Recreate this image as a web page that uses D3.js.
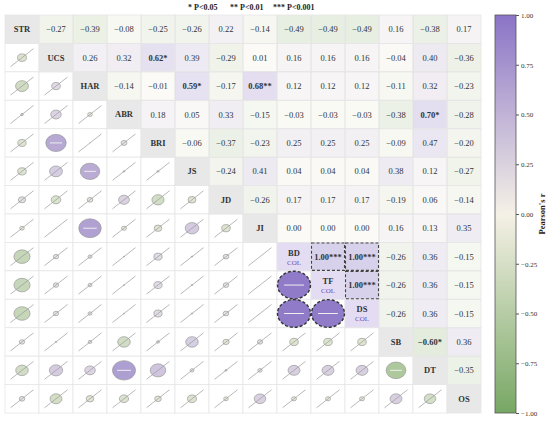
<!DOCTYPE html>
<html>
<head>
<meta charset="utf-8">
<script src="https://cdn.jsdelivr.net/npm/d3@7"></script>
<style>
  body { margin: 0; background: #fff; }
  svg { display: block; font-family: 'Liberation Serif', 'Times New Roman', serif; }
</style>
</head>
<body>
<svg width="550" height="423"></svg>
<script>
const vars = ['STR', 'UCS', 'HAR', 'ABR', 'BRI', 'JS', 'JD', 'JI', 'BD', 'TF', 'DS', 'SB', 'DT', 'OS']

// upper triangle, row by row (row i holds columns i+1 .. 13)
const upperRows = [
  [-0.27, -0.39, -0.08, -0.25, -0.26, 0.22, -0.14, -0.49, -0.49, -0.49, 0.16, -0.38, 0.17],
  [0.26, 0.32, 0.62, 0.39, -0.29, 0.01, 0.16, 0.16, 0.16, -0.04, 0.40, -0.36],
  [-0.14, -0.01, 0.59, -0.17, 0.68, 0.12, 0.12, 0.12, -0.11, 0.32, -0.23],
  [0.18, 0.05, 0.33, -0.15, -0.03, -0.03, -0.03, -0.38, 0.70, -0.28],
  [-0.06, -0.37, -0.23, 0.25, 0.25, 0.25, -0.09, 0.47, -0.20],
  [-0.24, 0.41, 0.04, 0.04, 0.04, 0.38, 0.12, -0.27],
  [-0.26, 0.17, 0.17, 0.17, -0.19, 0.06, -0.14],
  [0.00, 0.00, 0.00, 0.16, 0.13, 0.35],
  [1.00, 1.00, -0.26, 0.36, -0.15],
  [1.00, -0.26, 0.36, -0.15],
  [-0.26, 0.36, -0.15],
  [-0.60, 0.36],
  [-0.35]
]

const sigPairs = [
  ['UCS', 'BRI', '*'], ['HAR', 'JS', '*'], ['HAR', 'JI', '**'], ['ABR', 'DT', '*'],
  ['BD', 'TF', '***'], ['BD', 'DS', '***'], ['TF', 'DS', '***'], ['SB', 'DT', '*']
]

const groupVars = ['BD', 'TF', 'DS']
const groupLabel = 'COL'
const legendLabels = ['* P<0.05', '** P<0.01', '*** P<0.001']
const barTicks = [1, 0.75, 0.5, 0.25, 0, -0.25, -0.5, -0.75, -1]
const barTitle = "Pearson's r"

const svg = d3.select('svg')
const grid = {left: 5, right: 481, top: 15, bottom: 413}
const bar = {left: 495, width: 21}

const x = d3.scaleBand().domain(vars).range([grid.left, grid.right])
const y = d3.scaleBand().domain(vars).range([grid.top, grid.bottom])
const color = d3.scaleLinear()
  .domain([-1, 0, 1])
  .range(['#77a764', '#f5f1e6', '#8a74c6'])
const rx = d3.scaleLinear().domain([0, 1]).range([0, 16.5])
const fmt = d3.format('.2f')

// build cell list
const sigMap = new Map()
sigPairs.forEach(([a, b, s]) => { sigMap.set(a + '|' + b, s); sigMap.set(b + '|' + a, s) })
const cells = []
upperRows.forEach((row, i) => {
  row.forEach((r, k) => {
    const j = i + 1 + k
    const stars = sigMap.get(vars[i] + '|' + vars[j]) || ''
    cells.push({row: vars[i], col: vars[j], r, stars, upper: true})
    cells.push({row: vars[j], col: vars[i], r, stars, upper: false})
  })
})

const cw = x.bandwidth(), ch = y.bandwidth()
const g = svg.append('g')

// backgrounds
g.selectAll('rect.cell')
  .data(cells)
  .enter()
  .append('rect')
    .attr('class', 'cell')
    .attr('x', d => x(d.col))
    .attr('y', d => y(d.row))
    .attr('width', cw)
    .attr('height', ch)
    .attr('fill', d => d.upper ? color(d.r) : '#fff')
    .attr('fill-opacity', d => d.upper ? 0.33 : 1)
    .attr('stroke', '#e6e6e6')
    .attr('stroke-width', 0.8)

// diagonal
const diag = g.selectAll('g.diag')
  .data(vars)
  .enter()
  .append('g')
    .attr('class', 'diag')
    .attr('transform', d => `translate(${x(d)},${y(d)})`)

diag.append('rect')
  .attr('width', cw)
  .attr('height', ch)
  .attr('fill', d => groupVars.includes(d) ? '#e3dcf2' : '#e8e8e8')
  .attr('stroke', '#e6e6e6')
  .attr('stroke-width', 0.8)

diag.append('text')
  .attr('x', cw / 2)
  .attr('y', d => groupVars.includes(d) ? ch / 2 - 1 : ch / 2 + 3)
  .attr('text-anchor', 'middle')
  .attr('font-size', 8.5)
  .attr('font-weight', 'bold')
  .attr('fill', '#333')
  .text(d => d)

diag.filter(d => groupVars.includes(d))
  .append('text')
    .attr('x', cw / 2)
    .attr('y', ch / 2 + 8)
    .attr('text-anchor', 'middle')
    .attr('font-size', 7)
    .attr('fill', '#6a52b8')
    .text(groupLabel)

// upper values
const upperCells = cells.filter(d => d.upper)
g.selectAll('text.val')
  .data(upperCells)
  .enter()
  .append('text')
    .attr('class', 'val')
    .attr('x', d => x(d.col) + cw / 2)
    .attr('y', d => y(d.row) + ch / 2 + 3)
    .attr('text-anchor', 'middle')
    .attr('font-size', 8.5)
    .attr('font-weight', d => d.stars ? 'bold' : 'normal')
    .attr('fill', '#333')
    .text(d => fmt(d.r) + d.stars)

// dashed frames on perfect correlations
g.selectAll('rect.perfect')
  .data(upperCells.filter(d => Math.abs(d.r) === 1))
  .enter()
  .append('rect')
    .attr('class', 'perfect')
    .attr('x', d => x(d.col) + 0.5)
    .attr('y', d => y(d.row) + 0.5)
    .attr('width', cw - 1)
    .attr('height', ch - 1)
    .attr('fill', 'none')
    .attr('stroke', '#444')
    .attr('stroke-width', 1.1)
    .attr('stroke-dasharray', '3,2')

// lower ellipses
const lower = g.selectAll('g.low')
  .data(cells.filter(d => !d.upper))
  .enter()
  .append('g')
    .attr('class', 'low')
    .attr('transform', d => `translate(${x(d.col) + cw / 2},${y(d.row) + ch / 2})`)

lower.append('ellipse')
  .attr('rx', d => rx(Math.abs(d.r)))
  .attr('ry', d => rx(Math.abs(d.r)) * 0.84)
  .attr('fill', d => color(d.r))
  .attr('fill-opacity', d => d.stars ? 0.95 : 0.8)
  .attr('stroke', d => Math.abs(d.r) === 1 ? '#333' : '#999')
  .attr('stroke-width', d => Math.abs(d.r) === 1 ? 1.4 : 0.7)
  .attr('stroke-dasharray', d => Math.abs(d.r) === 1 ? '3,2' : null)

lower.filter(d => !d.stars)
  .append('line')
    .attr('x1', -11.5).attr('y1', 9)
    .attr('x2', 11.5).attr('y2', -9)
    .attr('stroke', '#9a9a9a')
    .attr('stroke-width', 0.7)

lower.filter(d => d.stars)
  .append('line')
    .attr('x1', d => -rx(Math.abs(d.r)) * 0.6)
    .attr('x2', d => rx(Math.abs(d.r)) * 0.6)
    .attr('y1', 0).attr('y2', 0)
    .attr('stroke', '#eee')
    .attr('stroke-width', 1)

// legend
const legendX = [188, 230, 273]
svg.selectAll('text.legend')
  .data(legendLabels)
  .enter()
  .append('text')
    .attr('class', 'legend')
    .attr('x', (d, i) => legendX[i])
    .attr('y', 10)
    .attr('font-size', 8)
    .attr('font-weight', 'bold')
    .attr('fill', '#222')
    .text(d => d)

// colorbar
const barY = d3.scaleLinear().domain([-1, 1]).range([grid.bottom, grid.top])
const grad = svg.append('defs').append('linearGradient')
  .attr('id', 'cbar')
  .attr('x1', 0).attr('y1', 1).attr('x2', 0).attr('y2', 0)
grad.selectAll('stop')
  .data(d3.range(-1, 1.001, 0.25))
  .enter()
  .append('stop')
    .attr('offset', d => (d + 1) / 2)
    .attr('stop-color', d => color(d))

svg.append('rect')
  .attr('x', bar.left)
  .attr('y', grid.top)
  .attr('width', bar.width)
  .attr('height', grid.bottom - grid.top)
  .attr('fill', 'url(#cbar)')
  .attr('stroke', '#555')
  .attr('stroke-width', 0.8)

const barAxis = svg.append('g')
  .attr('transform', `translate(${bar.left + bar.width},0)`)
  .call(d3.axisRight(barY).tickValues(barTicks).tickFormat(fmt).tickSize(3).tickPadding(2))
barAxis.select('.domain').remove()
barAxis.selectAll('.tick line').attr('stroke', '#555')
barAxis.selectAll('.tick text')
  .attr('font-family', "'Liberation Serif', 'Times New Roman', serif")
  .attr('font-size', 7)
  .attr('fill', '#333')

svg.append('text')
  .attr('transform', `translate(545,${(grid.top + grid.bottom) / 2}) rotate(-90)`)
  .attr('text-anchor', 'middle')
  .attr('font-size', 8.5)
  .attr('font-weight', 'bold')
  .attr('fill', '#222')
  .text(barTitle)
</script>
</body>
</html>
